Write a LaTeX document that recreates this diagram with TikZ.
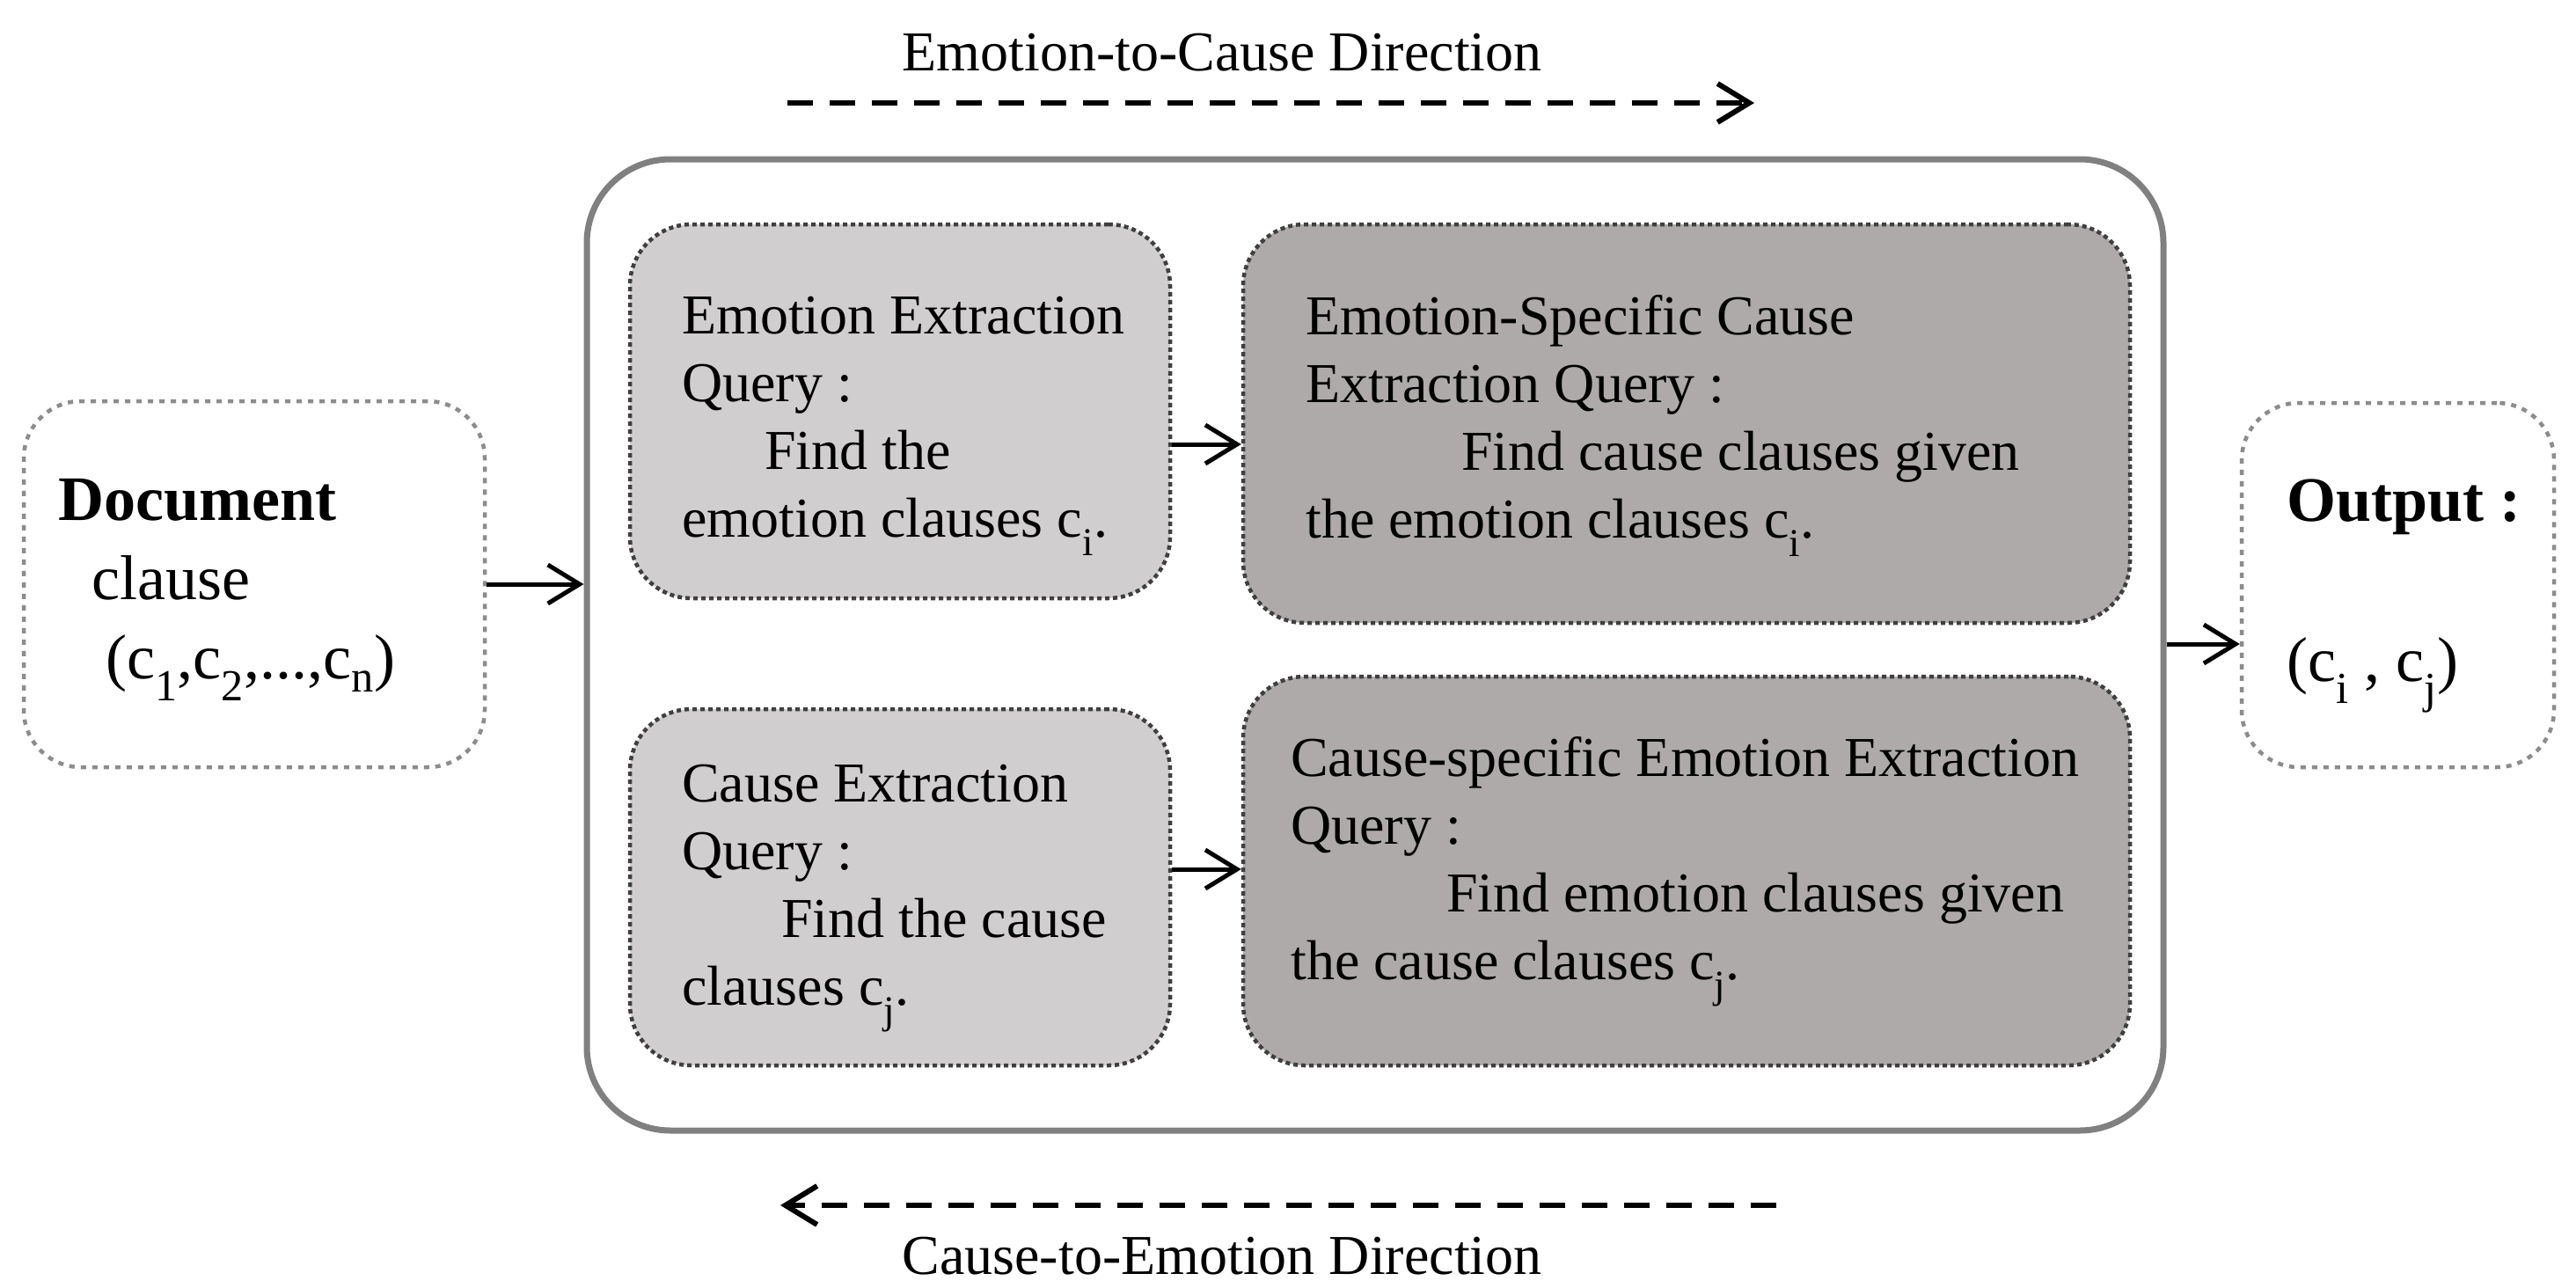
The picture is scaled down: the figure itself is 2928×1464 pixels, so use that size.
\documentclass[tikz,border=0pt]{standalone}
\usepackage{fontspec}
\setmainfont{Liberation Serif}
\usetikzlibrary{arrows.meta,calc}
\definecolor{lightfill}{HTML}{D0CECE}
\definecolor{darkfill}{HTML}{AEAAAA}
\definecolor{framegray}{HTML}{808080}
\definecolor{dotdark}{HTML}{3F3F3F}
\definecolor{dotlight}{HTML}{8C8C8C}
\begin{document}
\begin{tikzpicture}[x=1pt,y=-1pt,
  qbox/.style={draw=dotdark, line width=4.5pt, dash pattern=on 5pt off 4pt, rounded corners=70pt, inner sep=0pt},
  lightq/.style={qbox, fill=lightfill},
  darkq/.style={qbox, fill=darkfill},
  iobox/.style={draw=dotlight, line width=4.5pt, dash pattern=on 6pt off 7pt, rounded corners=65pt, inner sep=0pt},
  bigbox/.style={draw=framegray, line width=7pt, rounded corners=95pt, inner sep=0pt},
  qtext/.style={anchor=north west, inner sep=0pt, align=left, font=\fontsize{64}{77}\selectfont},
  iotext/.style={anchor=north west, inner sep=0pt, align=left, font=\fontsize{72}{90}\selectfont},
  arr/.style={line width=5pt, -{Straight Barb[length=36pt,width=44pt]}},
  dirarr/.style={line width=6pt, dash pattern=on 29pt off 19pt, -{Straight Barb[length=36pt,width=44pt]}},
  lbl/.style={inner sep=0pt, font=\fontsize{64}{77}\selectfont}
]
\useasboundingbox (0,0) rectangle (2928,1464);

% outer container
\node[bigbox, minimum width=1792pt, minimum height=1104pt] (big) at (1563,733) {};

% input / output
\node[iobox, minimum width=524pt, minimum height=416pt] (doc) at (289,664) {};
\node[iobox, minimum width=355pt, minimum height=414pt] (out) at (2725.5,665) {};

% query boxes
\node[lightq, minimum width=614pt, minimum height=425pt] (A) at (1023,467.5) {};
\node[darkq, minimum width=1008pt, minimum height=453pt] (B) at (1917,481.5) {};
\node[lightq, minimum width=614pt, minimum height=405pt] (C) at (1023,1008.5) {};
\node[darkq, minimum width=1008pt, minimum height=442pt] (D) at (1917,990) {};

% texts
\node[iotext] (doctext) at (66,544) {\textbf{Document}\\ \hspace*{38pt}clause\\ \hspace*{54pt}(c\textsubscript{1},c\textsubscript{2},...,c\textsubscript{n})};
\node[iotext] (outtext) at (2599,545) {\textbf{Output :}\\[92pt] (c\textsubscript{i} , c\textsubscript{j})};
\node[qtext] (Atext) at (775,337) {Emotion Extraction\\ Query :\\ \hspace*{94pt}Find the\\ emotion clauses c\textsubscript{i}.};
\node[qtext] (Btext) at (1484,335) {Emotion-Specific Cause\\ Extraction Query :\\ \hspace*{177pt}Find cause clauses given\\ the emotion clauses c\textsubscript{i}.};
\node[qtext] (Ctext) at (775,869) {Cause Extraction\\ Query :\\ \hspace*{113pt}Find the cause\\ clauses c\textsubscript{j}.};
\node[qtext] (Dtext) at (1467,837) {Cause-specific Emotion Extraction\\ Query :\\ \hspace*{177pt}Find emotion clauses given\\ the cause clauses c\textsubscript{j}.};

% direction labels
\node[lbl] (toplbl) at (1389,60) {Emotion-to-Cause Direction};
\node[lbl] (botlbl) at (1389,1428) {Cause-to-Emotion Direction};
\coordinate (e2cS) at (895,117);
\coordinate (e2cE) at (1994,117);
\coordinate (c2eS) at (2019,1370);
\coordinate (c2eE) at (887,1370);
\draw[dirarr] (e2cS) -- (e2cE);
\draw[dirarr] (c2eS) -- (c2eE);

% connectors
\draw[arr] (doc.east) -- (doc.east -| big.west);
\draw[arr] ([yshift=-37.5pt]A.east) -- ([yshift=-37.5pt]A.east -| B.west);
\draw[arr] ([yshift=20.5pt]C.east) -- ([yshift=20.5pt]C.east -| D.west);
\draw[arr] ([yshift=-67pt]out.west -| big.east) -- ([yshift=-67pt]out.west);
\end{tikzpicture}
\end{document}
